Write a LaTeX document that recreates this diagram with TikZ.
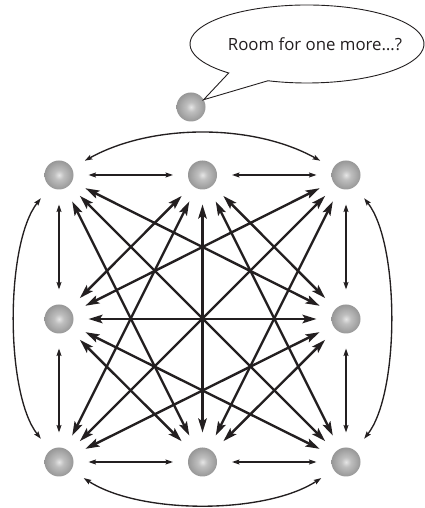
\documentclass[tikz,border=0pt]{standalone}
\usepackage{fontspec}
\setmainfont{Open Sans}
\usetikzlibrary{arrows.meta}
\definecolor{ink}{HTML}{231F20}
\pgfdeclareradialshading{spheresh}{\pgfpoint{0bp}{0bp}}{color(0bp)=(black!10); color(8bp)=(black!25); color(35bp)=(black!50); color(46bp)=(black!60); color(50bp)=(black!70)}
\begin{document}
\begin{tikzpicture}[x=1pt,y=1pt,
  ball/.style={circle, minimum size=29pt, inner sep=0pt, outer sep=15pt, shade, shading=spheresh},
  nearlink/.style={draw=ink, line width=1.35pt, {Stealth[length=7.5pt,width=5pt,inset=1.3pt]}-{Stealth[length=7.5pt,width=5pt,inset=1.3pt]}},
  farlink/.style={draw=ink, line width=2.4pt, {Stealth[length=14pt,width=8.5pt,inset=2.8pt]}-{Stealth[length=14pt,width=8.5pt,inset=2.8pt]}},
]
\useasboundingbox (0,0) rectangle (425,508);
% nodes
\node[ball] (TL) at (59,333) {};
\node[ball] (TM) at (202.5,333) {};
\node[ball] (TR) at (346,333) {};
\node[ball] (ML) at (59,189) {};
\node[ball] (MR) at (346,189) {};
\node[ball] (BL) at (59,46) {};
\node[ball] (BM) at (202.5,46) {};
\node[ball] (BR) at (346,46) {};
\node[ball, outer sep=0pt] (Q) at (191,401) {};
% speech bubble
\coordinate (bc) at (307,464);
\draw[ink, line width=0.9pt, fill=white] ([shift={(-109.5:117 and 39)}]bc) arc[start angle=-109.5, end angle=228, x radius=117, y radius=39] -- (Q.30) -- cycle;
\node[ink, font=\fontsize{16.8}{20}\selectfont, inner sep=0pt] (msg) at (315,464) {Room for one more…?};
% near links
\draw[nearlink] (TL) -- (TM);
\draw[nearlink] (TM) -- (TR);
\draw[nearlink] (TL) -- (ML);
\draw[nearlink] (ML) -- (BL);
\draw[nearlink] (TR) -- (MR);
\draw[nearlink] (MR) -- (BR);
\draw[nearlink] (BL) -- (BM);
\draw[nearlink] (BM) -- (BR);
% curved links
\draw[nearlink] (TL.29) .. controls +(29:77) and +(151:77) .. (TR.151);
\draw[nearlink] (BL.-33) .. controls +(-33:67) and +(-147:67) .. (BR.-147);
\draw[nearlink] (TL.232) .. controls +(232:58) and +(128:58) .. (BL.128);
\draw[nearlink] (TR.-52) .. controls +(-52:58) and +(52:58) .. (BR.52);
% far links
\draw[farlink] (TL) -- (MR);
\draw[farlink] (TL) -- (BM);
\draw[farlink] (TL) -- (BR);
\draw[farlink] (TM) -- (ML);
\draw[farlink] (TM) -- (MR);
\draw[farlink] (TM) -- (BL);
\draw[farlink] (TM) -- (BM);
\draw[farlink] (TM) -- (BR);
\draw[farlink] (TR) -- (ML);
\draw[farlink] (TR) -- (BL);
\draw[farlink] (TR) -- (BM);
\draw[farlink] (ML) -- (MR);
\draw[farlink] (ML) -- (BM);
\draw[farlink] (ML) -- (BR);
\draw[farlink] (MR) -- (BL);
\draw[farlink] (MR) -- (BM);
\end{tikzpicture}
\end{document}
